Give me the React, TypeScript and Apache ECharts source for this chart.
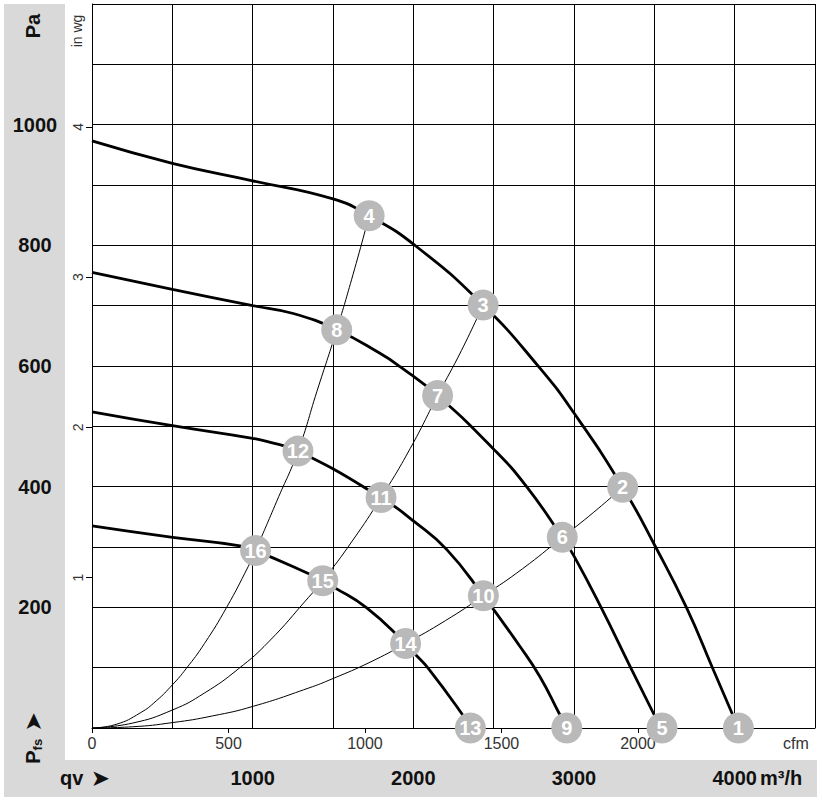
import React, { useEffect, useRef } from 'react';
import * as echarts from 'echarts';

// Unit conversions and axis ranges
const M3H_PER_CFM = 1.69901;
const PA_PER_INWG = 249.089;
const Q_MAX = 4500; // m³/h
const P_MAX = 1200; // Pa

// Fan curves [m³/h, Pa]
const curve1 = [[0, 973], [500, 936], [1000, 907], [1500, 877], [1725, 849], [2010, 800], [2434, 701], [2780, 599], [3000, 522], [3303, 399], [3508, 300], [3701, 199], [3863, 99], [4023, 0]];
const curve2 = [[0, 755], [500, 727], [1000, 700], [1253, 687], [1523, 660], [1792, 621], [1917, 599], [2151, 551], [2504, 461], [2705, 400], [2927, 316], [3002, 284], [3170, 199], [3355, 99], [3540, 0]];
const curve3 = [[0, 524], [500, 501], [1000, 480], [1087, 475], [1282, 459], [1799, 382], [2006, 342], [2207, 296], [2436, 219], [2664, 135], [2788, 85], [2908, 24], [2955, 0]];
const curve4 = [[0, 335], [502, 316], [921, 302], [1018, 294], [1346, 256], [1436, 244], [1502, 234], [1710, 199], [1952, 140], [2006, 124], [2093, 99], [2301, 24], [2355, 0]];

// System curves [m³/h, Pa]
const systemSteep = [[0, 0], [150, 6], [300, 25], [400, 45], [502, 72], [585, 98], [700, 140], [838, 200], [973, 268], [1018, 294], [1150, 376], [1282, 459], [1400, 558], [1523, 660], [1625, 752], [1725, 849]];
const systemMid = [[0, 0], [250, 8], [502, 30], [700, 58], [911, 98], [1100, 143], [1346, 216], [1436, 244], [1620, 310], [1799, 382], [1980, 463], [2151, 551], [2300, 626], [2434, 701]];
const systemFlat = [[0, 0], [250, 2], [502, 9], [750, 20], [1004, 36], [1346, 66], [1500, 82], [1730, 109], [1952, 140], [2200, 178], [2436, 219], [2680, 264], [2927, 316], [3120, 357], [3303, 399]];

// Operating points
const pointLabels = ['1', '2', '3', '4', '5', '6', '7', '8', '9', '10', '11', '12', '13', '14', '15', '16'];
const pointQ = [4023, 3303, 2434, 1725, 3548, 2927, 2151, 1523, 2955, 2436, 1799, 1282, 2355, 1952, 1436, 1018];
const pointP = [0, 399, 701, 849, 0, 316, 551, 660, 0, 219, 382, 459, 0, 140, 244, 294];

// Tick labels
const m3hTicks = [1000, 2000, 3000, 4000];
const paTicks = [200, 400, 600, 800, 1000];
const cfmTicks = [0, 500, 1000, 1500, 2000];
const inwgTicks = [1, 2, 3, 4];

const FONT = 'Arial, "Liberation Sans", Helvetica, sans-serif';
const plain = (v: number) => String(Math.round(v));

function buildOption(): any {
  const mainLine = (data: number[][]) => ({
    type: 'line',
    data,
    xAxisIndex: 0,
    yAxisIndex: 0,
    symbol: 'none',
    showSymbol: false,
    smooth: 0.5,
    lineStyle: { color: '#000', width: 2.8 },
    z: 3,
    silent: true,
  });
  const sysLine = (data: number[][]) => ({
    type: 'line',
    data,
    xAxisIndex: 0,
    yAxisIndex: 0,
    symbol: 'none',
    showSymbol: false,
    smooth: 0.5,
    lineStyle: { color: '#000', width: 1 },
    z: 2,
    silent: true,
  });

  return {
    animation: false,
    backgroundColor: '#fff',
    grid: { left: 92, top: 4, width: 723, height: 724, show: false },
    xAxis: [
      {
        type: 'value',
        min: 0,
        max: Q_MAX,
        interval: 500,
        position: 'bottom',
        axisLine: { show: true, onZero: false, lineStyle: { color: '#000', width: 1 } },
        axisTick: { show: false },
        splitLine: { show: true, lineStyle: { color: '#000', width: 1 } },
        axisLabel: {
          show: true,
          customValues: m3hTicks,
          formatter: plain,
          margin: 50,
          verticalAlign: 'middle',
          fontSize: 20,
          fontWeight: 'bold',
          color: '#111',
          fontFamily: FONT,
        },
      },
      {
        type: 'value',
        min: 0,
        max: Q_MAX / M3H_PER_CFM,
        position: 'bottom',
        axisLine: { show: false, onZero: false },
        axisTick: { show: true, customValues: cfmTicks, length: 5, lineStyle: { color: '#000' } },
        splitLine: { show: false },
        axisLabel: {
          show: true,
          customValues: cfmTicks,
          formatter: plain,
          margin: 15,
          verticalAlign: 'middle',
          fontSize: 16,
          color: '#333',
          fontFamily: FONT,
        },
      },
    ],
    yAxis: [
      {
        type: 'value',
        min: 0,
        max: P_MAX,
        interval: 100,
        position: 'left',
        axisLine: { show: true, onZero: false, lineStyle: { color: '#000', width: 1 } },
        axisTick: { show: false },
        splitLine: { show: true, lineStyle: { color: '#000', width: 1 } },
        axisLabel: {
          show: true,
          customValues: paTicks,
          formatter: plain,
          margin: 57,
          align: 'center',
          fontSize: 20,
          fontWeight: 'bold',
          color: '#111',
          fontFamily: FONT,
        },
      },
      {
        type: 'value',
        min: 0,
        max: P_MAX / PA_PER_INWG,
        position: 'left',
        axisLine: { show: false, onZero: false },
        axisTick: { show: true, customValues: inwgTicks, length: 6, lineStyle: { color: '#000' } },
        splitLine: { show: false },
        axisLabel: {
          show: true,
          customValues: inwgTicks,
          formatter: plain,
          rotate: 90,
          margin: 7,
          fontSize: 14,
          color: '#333',
          fontFamily: FONT,
        },
      },
    ],
    graphic: [
      { type: 'rect', z: -10, shape: { x: 4, y: 4, width: 61, height: 793 }, style: { fill: '#d9d9d9' } },
      { type: 'rect', z: -10, shape: { x: 4, y: 760, width: 813, height: 37 }, style: { fill: '#d9d9d9' } },
      {
        type: 'text', x: 33, y: 26, rotation: Math.PI / 2,
        style: { text: 'Pa', font: `bold 20px ${FONT}`, fill: '#111', align: 'center', verticalAlign: 'middle' },
      },
      {
        type: 'text', x: 77, y: 31, rotation: Math.PI / 2,
        style: { text: 'in wg', font: `14px ${FONT}`, fill: '#333', align: 'center', verticalAlign: 'middle' },
      },
      {
        type: 'text', x: 33, y: 738, rotation: Math.PI / 2,
        style: {
          text: '{p|P}{s|fs}{a| ➤}',
          align: 'center',
          verticalAlign: 'middle',
          fill: '#111',
          rich: {
            p: { fontSize: 20, fontWeight: 'bold', fontFamily: FONT, fill: '#111' },
            s: { fontSize: 13, fontWeight: 'bold', fontFamily: FONT, fill: '#111', padding: [8, 0, 0, 0] },
            a: { fontSize: 23, fontFamily: 'DejaVu Sans', fill: '#111' },
          },
        },
      },
      {
        type: 'text', x: 60, y: 778,
        style: {
          text: '{q|qv}{a| ➤}',
          align: 'left',
          verticalAlign: 'middle',
          fill: '#111',
          rich: {
            q: { fontSize: 20, fontWeight: 'bold', fontFamily: FONT, fill: '#111' },
            a: { fontSize: 23, fontFamily: 'DejaVu Sans', fill: '#111' },
          },
        },
      },
      {
        type: 'text', x: 760, y: 778,
        style: { text: 'm³/h', font: `bold 20px ${FONT}`, fill: '#111', align: 'left', verticalAlign: 'middle' },
      },
      {
        type: 'text', x: 783, y: 743,
        style: { text: 'cfm', font: `16px ${FONT}`, fill: '#333', align: 'left', verticalAlign: 'middle' },
      },
    ],
    series: [
      sysLine(systemSteep),
      sysLine(systemMid),
      sysLine(systemFlat),
      mainLine(curve1),
      mainLine(curve2),
      mainLine(curve3),
      mainLine(curve4),
      {
        type: 'scatter',
        xAxisIndex: 0,
        yAxisIndex: 0,
        clip: false,
        symbol: 'circle',
        symbolSize: 31,
        z: 5,
        itemStyle: { color: '#b9b9b9', opacity: 1 },
        label: {
          show: true,
          position: 'inside',
          formatter: (p: any) => p.value[2],
          color: '#fff',
          fontSize: 20,
          fontWeight: 'bold',
          fontFamily: FONT,
        },
        data: pointLabels.map((lab, i) => [pointQ[i], pointP[i], lab]),
      },
    ],
  };
}

export default function App() {
  const ref = useRef<HTMLDivElement>(null);
  useEffect(() => {
    if (!ref.current) return;
    const chart = echarts.init(ref.current, null, { renderer: 'svg' });
    chart.setOption(buildOption());
    return () => chart.dispose();
  }, []);
  return (
    <div
      ref={ref}
      style={{ position: 'absolute', left: 0, top: 0, width: 822, height: 803, background: '#fff' }}
    />
  );
}
